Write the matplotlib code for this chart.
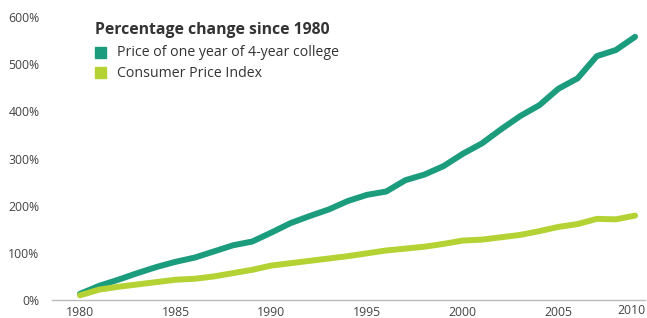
import matplotlib.pyplot as plt
from matplotlib.patches import Rectangle

years = list(range(1980, 2010))
college = [13, 30, 43, 57, 70, 81, 90, 103, 116, 124,
           143, 163, 178, 192, 210, 223, 230, 254, 266, 284,
           310, 332, 362, 390, 413, 448, 470, 517, 530, 558]
cpi = [10, 22, 28, 33, 38, 43, 45, 50, 57, 64,
       73, 78, 83, 88, 93, 99, 105, 109, 113, 119,
       126, 128, 133, 138, 146, 155, 161, 172, 171, 179]
y_ticks = [0, 100, 200, 300, 400, 500, 600]
x_ticks = [1980, 1985, 1990, 1995, 2000, 2005, 2010]

TEAL = '#1b9c7d'
LIME = '#b4d234'
GREY = '#444444'

plt.rcParams['font.family'] = ['Open Sans', 'DejaVu Sans']

fig = plt.figure(figsize=(6.47, 3.18), dpi=100)
# axes spans pixel x 52..645, y 17..300 (0%..600%)
ax = fig.add_axes([52 / 647, 18 / 318, 593 / 647, 283 / 318])

ax.plot(years, college, color=TEAL, lw=4.3, solid_capstyle='round', solid_joinstyle='round')
ax.plot(years, cpi, color=LIME, lw=4.3, solid_capstyle='round', solid_joinstyle='round')

ax.set_ylim(0, 600)
ax.set_xlim(1980 - 28 / 19.14, 1980 + 565 / 19.14)

for s in ['top', 'right', 'left']:
    ax.spines[s].set_visible(False)
ax.spines['bottom'].set_color('#bbbbbb')
ax.spines['bottom'].set_linewidth(1.0)

ax.set_yticks(y_ticks)
ax.set_yticklabels([f'{v}%' for v in y_ticks])
ax.set_xticks(x_ticks[:-1])
ax.set_xticklabels([str(v) for v in x_ticks[:-1]])
ax.tick_params(length=0, labelsize=8.8, labelcolor=GREY)
ax.tick_params(axis='y', pad=9)
ax.tick_params(axis='x', pad=4)
# last year label sits at the right edge
ax.text(1.0, -0.014, str(x_ticks[-1]), transform=ax.transAxes, ha='right', va='top',
        fontsize=8.8, color=GREY)

# legend block
fig.text(95 / 647, 1 - 30 / 318, 'Percentage change since 1980', fontsize=11.3,
         fontweight='bold', color='#333333', va='center', ha='left')
for i, (lab, col) in enumerate([('Price of one year of 4-year college', TEAL),
                                ('Consumer Price Index', LIME)]):
    yc = 53 + i * 20
    fig.patches.append(Rectangle((95 / 647, 1 - (yc + 5) / 318), 11 / 647, 11 / 318,
                                 transform=fig.transFigure, color=col))
    fig.text(117 / 647, 1 - yc / 318, lab, fontsize=10.2, color='#333333',
             va='center', ha='left')

fig.savefig('out.png', dpi=100)
